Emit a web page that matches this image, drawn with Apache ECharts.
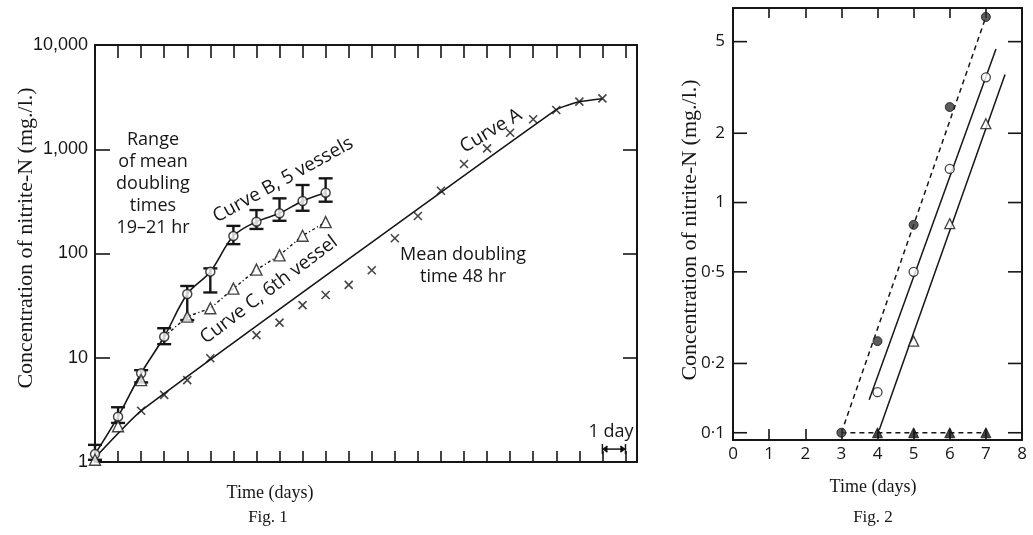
<!DOCTYPE html>
<html>
<head>
<meta charset="utf-8">
<script src="https://cdn.jsdelivr.net/npm/echarts@6/dist/echarts.min.js"></script>
<style>
  html, body { margin: 0; padding: 0; background: #fff; }
  #chart { width: 1033px; height: 535px; }
</style>
</head>
<body>
<div id="chart"></div>
<script>
// ---------- Fig. 1: nitrite-N accumulation over time (log scale) ----------
// Curve A (crosses): single vessel, mean doubling time 48 hr
const daysA   = [2, 3, 4, 5, 7, 8, 9, 10, 11, 12, 13, 14, 15, 16, 17, 18, 19, 20, 21, 22];
const valuesA = [3.1, 4.4, 6.1, 9.9, 16.5, 21.7, 32, 40, 50, 69, 140, 229, 400, 722, 1020, 1440, 1940, 2380, 2860, 3080];
// fitted line through curve A
const fitDaysA   = [0, 2, 20, 21, 22];
const fitValuesA = [1.1, 3.1, 2400, 2850, 3050];

// Curve B (open circles): mean of 5 vessels with range bars
const daysB   = [0, 1, 2, 3, 4, 5, 6, 7, 8, 9, 10];
const valuesB = [1.19, 2.72, 7.1, 15.9, 40.9, 67, 147, 202, 243, 319, 383];
const lowB    = [1.05, 2.37, 5.8, 13.5, 23, 42.3, 123, 172, 206, 257, 314];
const highB   = [1.46, 3.35, 7.6, 19.2, 48.8, 72, 184, 261, 338, 454, 526];

// Curve C (open triangles): 6th vessel
const daysC   = [0, 1, 2, 4, 5, 6, 7, 8, 9, 10];
const valuesC = [1.05, 2.2, 6.1, 24.8, 29.8, 46, 70, 96, 148, 200];
const lineDaysC   = [3, 4, 5, 6, 7, 8, 9, 10];
const lineValuesC = [15.9, 24.8, 29.8, 46, 70, 96, 148, 200];

const fig1YTicks = [1, 10, 100, 1000, 10000];

// ---------- Fig. 2: nitrite-N in the first week ----------
const fig2XTicks = [0, 1, 2, 3, 4, 5, 6, 7, 8];
const fig2YTicks = [0.1, 0.2, 0.5, 1, 2, 5];

const daysFilledCircle   = [3, 4, 5, 6, 7];
const valuesFilledCircle = [0.1, 0.25, 0.8, 2.6, 6.4];
const fitFilledCircle    = [[3, 0.1], [7, 6.4]];

const daysOpenCircle   = [4, 5, 6, 7];
const valuesOpenCircle = [0.15, 0.5, 1.4, 3.5];
const fitOpenCircle    = [[3.77, 0.139], [7.28, 4.64]];

const daysOpenTriangle   = [5, 6, 7];
const valuesOpenTriangle = [0.25, 0.81, 2.2];
const fitOpenTriangle    = [[4.05, 0.103], [7.53, 3.6]];

const daysFilledTriangle   = [4, 5, 6, 7];
const valuesFilledTriangle = [0.1, 0.1, 0.1, 0.1];
const baseFilledTriangle   = [[3, 0.1], [7, 0.1]];

// ---------- styling ----------
const INK = '#161616';
const SANS = '"Open Sans", Lato, sans-serif';
const SERIF = '"Liberation Serif", "DejaVu Serif", serif';
const ARIAL = '"Liberation Sans", Arial, sans-serif';
const CROSS = 'path://M0,0L10,10M10,0L0,10';

const zip = (xs, ys) => xs.map((x, i) => [x, ys[i]]);

const chart = echarts.init(document.getElementById('chart'), null, { renderer: 'canvas' });

function boxAxis(gridIndex, position, extra) {
  return Object.assign({
    gridIndex, position, type: 'value',
    axisLine: { show: true, onZero: false, lineStyle: { color: INK, width: 2 } },
    axisTick: { show: true, inside: true, length: 11, lineStyle: { color: INK, width: 1.6 } },
    axisLabel: { show: false },
    splitLine: { show: false }
  }, extra);
}

const option = {
  animation: false,
  backgroundColor: '#fff',
  grid: [
    { left: 95, top: 45, width: 542, height: 417 },
    { left: 733, top: 8, width: 289, height: 432 }
  ],
  xAxis: [
    boxAxis(0, 'bottom', { min: 0, max: 23.5, interval: 1 }),
    boxAxis(0, 'top', { min: 0, max: 23.5, interval: 1, axisTick: { show: true, inside: true, length: 13, lineStyle: { color: INK, width: 1.6 } } }),
    boxAxis(1, 'bottom', {
      min: 0, max: 8, interval: 1,
      axisLabel: { show: true, color: INK, fontFamily: SANS, fontSize: 17, margin: 6,
        formatter: v => fig2XTicks.includes(v) ? String(v) : '' }
    }),
    boxAxis(1, 'top', { min: 0, max: 8, interval: 1, axisTick: { show: true, inside: true, length: 10, lineStyle: { color: INK, width: 1.6 } } })
  ],
  yAxis: [
    boxAxis(0, 'left', {
      type: 'log', logBase: 10, min: 1, max: 10000,
      axisTick: { show: true, inside: true, length: 15, lineStyle: { color: INK, width: 1.6 } },
      axisLabel: { show: true, color: INK, fontFamily: ARIAL, fontSize: 18, margin: 7,
        formatter: v => fig1YTicks.includes(Math.round(v)) ? Math.round(v).toLocaleString('en-US') : '' }
    }),
    boxAxis(0, 'right', {
      type: 'log', logBase: 10, min: 1, max: 10000,
      axisTick: { show: true, inside: true, length: 14, lineStyle: { color: INK, width: 1.6 } }
    }),
    boxAxis(1, 'left', { type: 'log', logBase: 10, min: 0.093, max: 7, axisTick: { show: false } }),
    boxAxis(1, 'right', { type: 'log', logBase: 10, min: 0.093, max: 7, axisTick: { show: false } })
  ],
  series: [
    // ----- Fig. 1 -----
    {
      type: 'line', xAxisIndex: 0, yAxisIndex: 0, data: zip(fitDaysA, fitValuesA),
      symbol: 'none', smooth: 0.15, lineStyle: { color: INK, width: 1.6 }, z: 2
    },
    {
      type: 'scatter', xAxisIndex: 0, yAxisIndex: 0, data: zip(daysA, valuesA),
      symbol: CROSS, symbolSize: 8,
      itemStyle: { color: 'transparent', borderColor: INK, borderWidth: 1.6 }, z: 4
    },
    {
      type: 'line', xAxisIndex: 0, yAxisIndex: 0, data: zip(daysB, valuesB),
      symbol: 'none', smooth: 0.35, lineStyle: { color: INK, width: 1.6 }, z: 2
    },
    {
      type: 'custom', xAxisIndex: 0, yAxisIndex: 0,
      data: daysB.map((d, i) => [d, lowB[i], highB[i]]),
      encode: { x: 0, y: [1, 2] },
      renderItem: (params, api) => {
        const lo = api.coord([api.value(0), api.value(1)]);
        const hi = api.coord([api.value(0), api.value(2)]);
        const w = 7;
        const st = { stroke: INK, lineWidth: 2.4 };
        return {
          type: 'group', children: [
            { type: 'line', shape: { x1: lo[0], y1: lo[1], x2: hi[0], y2: hi[1] }, style: st },
            { type: 'line', shape: { x1: lo[0] - w, y1: lo[1], x2: lo[0] + w, y2: lo[1] }, style: st },
            { type: 'line', shape: { x1: hi[0] - w, y1: hi[1], x2: hi[0] + w, y2: hi[1] }, style: st }
          ]
        };
      }, z: 3
    },
    {
      type: 'scatter', xAxisIndex: 0, yAxisIndex: 0, data: zip(daysB, valuesB),
      symbol: 'circle', symbolSize: 9,
      itemStyle: { color: '#fff', borderColor: INK, borderWidth: 1.5 }, z: 5
    },
    {
      type: 'line', xAxisIndex: 0, yAxisIndex: 0, data: zip(lineDaysC, lineValuesC),
      symbol: 'none', lineStyle: { color: INK, width: 1.4, type: [3, 2.5, 1.2, 2.5] }, z: 2
    },
    {
      type: 'scatter', xAxisIndex: 0, yAxisIndex: 0, data: zip(daysC, valuesC),
      symbol: 'triangle', symbolSize: 11,
      itemStyle: { color: '#fff', borderColor: INK, borderWidth: 1.4 }, z: 5
    },
    {
      // one-day scale bar
      type: 'custom', xAxisIndex: 0, yAxisIndex: 0, data: [[22, 23, 1.33, 1.95]],
      encode: { x: [0, 1], y: [2, 3] },
      renderItem: (params, api) => {
        const a = api.coord([api.value(0), api.value(2)]);
        const b = api.coord([api.value(1), api.value(2)]);
        const t = api.coord([(api.value(0) + api.value(1)) / 2, api.value(3)]);
        const st = { stroke: INK, lineWidth: 1.5 };
        return {
          type: 'group', children: [
            { type: 'line', shape: { x1: a[0], y1: a[1], x2: b[0], y2: b[1] }, style: st },
            { type: 'line', shape: { x1: a[0], y1: a[1] - 5, x2: a[0], y2: a[1] + 5 }, style: st },
            { type: 'line', shape: { x1: b[0], y1: b[1] - 5, x2: b[0], y2: b[1] + 5 }, style: st },
            { type: 'polyline', shape: { points: [[a[0] + 5, a[1] - 3], [a[0] + 1, a[1]], [a[0] + 5, a[1] + 3]] }, style: st },
            { type: 'polyline', shape: { points: [[b[0] - 5, b[1] - 3], [b[0] - 1, b[1]], [b[0] - 5, b[1] + 3]] }, style: st },
            { type: 'text', x: t[0] - 3, y: t[1], style: { text: '1 day', fill: INK, font: '18px ' + SANS, align: 'center', verticalAlign: 'middle' } }
          ]
        };
      }, z: 5
    },
    // ----- Fig. 2 -----
    {
      // y ticks and labels on both sides
      type: 'custom', xAxisIndex: 2, yAxisIndex: 2, data: fig2YTicks.map(v => [0, v]),
      renderItem: (params, api) => {
        const v = api.value(1);
        const p = api.coord([0, v]);
        const q = api.coord([8, v]);
        const st = { stroke: INK, lineWidth: 1.6 };
        return {
          type: 'group', children: [
            { type: 'line', shape: { x1: p[0], y1: p[1], x2: p[0] + 14, y2: p[1] }, style: st },
            { type: 'line', shape: { x1: q[0] - 14, y1: q[1], x2: q[0], y2: q[1] }, style: st },
            { type: 'text', x: p[0] - 8, y: p[1], style: { text: String(v).replace('.', '·'), fill: INK, font: '17px ' + SANS, align: 'right', verticalAlign: 'middle' } }
          ]
        };
      }, z: 1
    },
    {
      type: 'line', xAxisIndex: 2, yAxisIndex: 2, data: fitFilledCircle,
      symbol: 'none', lineStyle: { color: INK, width: 1.5, type: [5, 4] }, z: 2
    },
    {
      type: 'line', xAxisIndex: 2, yAxisIndex: 2, data: baseFilledTriangle,
      symbol: 'none', lineStyle: { color: INK, width: 1.5, type: [5, 4] }, z: 2
    },
    {
      type: 'line', xAxisIndex: 2, yAxisIndex: 2, data: fitOpenCircle,
      symbol: 'none', lineStyle: { color: INK, width: 1.5 }, z: 2
    },
    {
      type: 'line', xAxisIndex: 2, yAxisIndex: 2, data: fitOpenTriangle,
      symbol: 'none', lineStyle: { color: INK, width: 1.5 }, z: 2
    },
    {
      type: 'scatter', xAxisIndex: 2, yAxisIndex: 2, data: zip(daysFilledCircle, valuesFilledCircle),
      symbol: 'circle', symbolSize: 9,
      itemStyle: { color: '#333', borderColor: INK, borderWidth: 1 }, z: 5
    },
    {
      type: 'scatter', xAxisIndex: 2, yAxisIndex: 2, data: zip(daysOpenCircle, valuesOpenCircle),
      symbol: 'circle', symbolSize: 9,
      itemStyle: { color: '#fff', borderColor: INK, borderWidth: 1.3 }, z: 5
    },
    {
      type: 'scatter', xAxisIndex: 2, yAxisIndex: 2, data: zip(daysOpenTriangle, valuesOpenTriangle),
      symbol: 'triangle', symbolSize: 10,
      itemStyle: { color: '#fff', borderColor: INK, borderWidth: 1.3 }, z: 5
    },
    {
      type: 'scatter', xAxisIndex: 2, yAxisIndex: 2, data: zip(daysFilledTriangle, valuesFilledTriangle),
      symbol: 'triangle', symbolSize: 10,
      itemStyle: { color: INK, borderColor: INK, borderWidth: 1 }, z: 5
    }
  ],
  graphic: [
    // Fig. 1 titles and annotations
    { type: 'text', x: 26, y: 238, rotation: Math.PI / 2, style: { text: 'Concentration of nitrite-N (mg./l.)', fill: INK, font: '22px ' + SERIF, align: 'center', verticalAlign: 'middle' } },
    { type: 'text', x: 270, y: 493, style: { text: 'Time (days)', fill: INK, font: '18px ' + SERIF, align: 'center', verticalAlign: 'middle' } },
    { type: 'text', x: 268, y: 518, style: { text: 'Fig. 1', fill: INK, font: '17px ' + SERIF, align: 'center', verticalAlign: 'middle' } },
    { type: 'text', x: 153, y: 184, style: { text: 'Range\nof mean\ndoubling\ntimes\n19–21 hr', fill: INK, font: '18px ' + SANS, lineHeight: 22, align: 'center', verticalAlign: 'middle' } },
    { type: 'text', x: 283, y: 180, rotation: 29 * Math.PI / 180, style: { text: 'Curve B, 5 vessels', fill: INK, font: '19px ' + SANS, align: 'center', verticalAlign: 'middle' } },
    { type: 'text', x: 269, y: 290, rotation: 37 * Math.PI / 180, style: { text: 'Curve C, 6th vessel', fill: INK, font: '19px ' + SANS, align: 'center', verticalAlign: 'middle' } },
    { type: 'text', x: 491, y: 131, rotation: 31 * Math.PI / 180, style: { text: 'Curve A', fill: INK, font: '19px ' + SANS, align: 'center', verticalAlign: 'middle' } },
    { type: 'text', x: 463, y: 266, style: { text: 'Mean doubling\ntime 48 hr', fill: INK, font: '18px ' + SANS, lineHeight: 22, align: 'center', verticalAlign: 'middle' } },
    // Fig. 2 titles
    { type: 'text', x: 690, y: 230, rotation: Math.PI / 2, style: { text: 'Concentration of nitrite-N (mg./l.)', fill: INK, font: '22px ' + SERIF, align: 'center', verticalAlign: 'middle' } },
    { type: 'text', x: 873, y: 487, style: { text: 'Time (days)', fill: INK, font: '18px ' + SERIF, align: 'center', verticalAlign: 'middle' } },
    { type: 'text', x: 873, y: 518, style: { text: 'Fig. 2', fill: INK, font: '17px ' + SERIF, align: 'center', verticalAlign: 'middle' } }
  ]
};

chart.setOption(option);
</script>
</body>
</html>
